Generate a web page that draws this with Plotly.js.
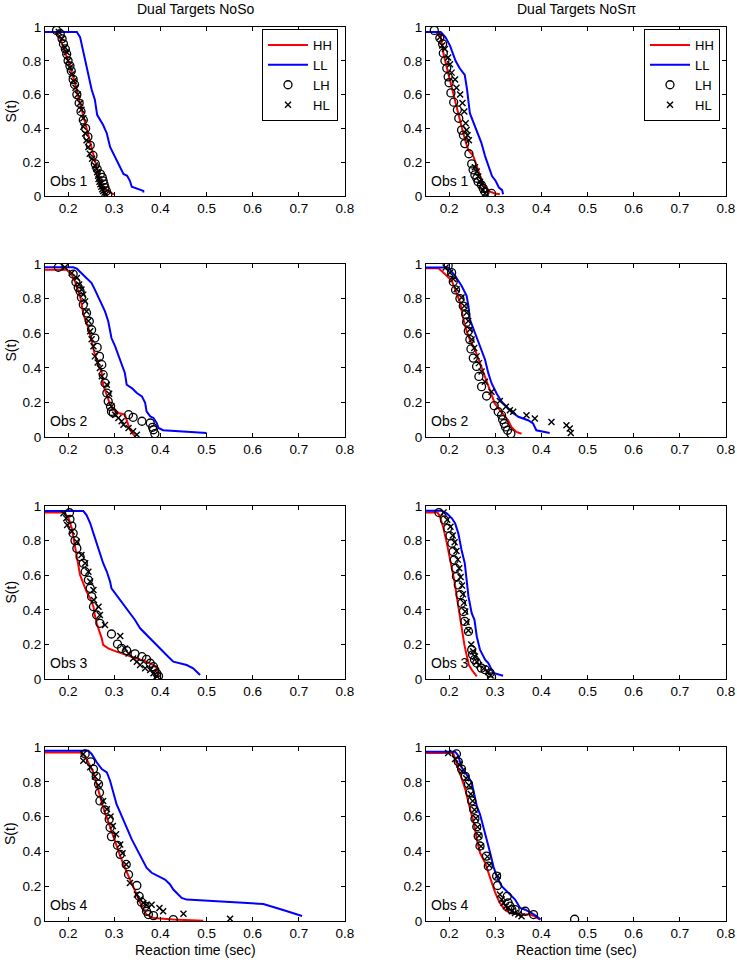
<!DOCTYPE html>
<html>
<head>
<meta charset="utf-8">
<script src="https://cdn.plot.ly/plotly-3.0.1.min.js"></script>
<style>
  html, body { margin: 0; padding: 0; background: #fff; }
  #chart { width: 737px; height: 960px; }
</style>
</head>
<body>
<div id="chart"></div>
<script>
// Survival curves S(t), as [time (sec), S(t)] pairs.
// HH / LL are drawn as lines, LH / HL as open markers.

// ---- Dual Targets NoSo ----
const noso1_hh = [[0.15,0.97],[0.172,0.97],[0.182,0.94],[0.19,0.88],[0.197,0.83],[0.204,0.77],[0.213,0.685],[0.222,0.59],[0.229,0.51],[0.237,0.43],[0.244,0.35],[0.251,0.27],[0.257,0.21],[0.262,0.17],[0.266,0.13],[0.27,0.085],[0.276,0.055],[0.284,0.035],[0.291,0.02],[0.3,0.01]];
const noso1_ll = [[0.15,0.97],[0.219,0.97],[0.226,0.94],[0.237,0.8],[0.244,0.72],[0.251,0.63],[0.258,0.57],[0.263,0.48],[0.276,0.42],[0.284,0.37],[0.291,0.29],[0.302,0.23],[0.313,0.17],[0.32,0.13],[0.328,0.12],[0.334,0.09],[0.338,0.055],[0.355,0.04],[0.363,0.03],[0.363,0.02]];
const noso1_lh = [[0.175,0.98],[0.183,0.96],[0.187,0.93],[0.19,0.9],[0.194,0.87],[0.197,0.84],[0.2,0.8],[0.204,0.77],[0.207,0.74],[0.211,0.69],[0.214,0.66],[0.219,0.6],[0.224,0.55],[0.228,0.5],[0.233,0.45],[0.238,0.4],[0.243,0.35],[0.248,0.3],[0.254,0.24],[0.259,0.19],[0.263,0.16],[0.27,0.13],[0.274,0.11],[0.276,0.09],[0.278,0.07],[0.28,0.05],[0.283,0.03],[0.286,0.01]];
const noso1_hl = [[0.18,0.97],[0.187,0.93],[0.193,0.88],[0.197,0.85],[0.2,0.8],[0.204,0.76],[0.208,0.72],[0.212,0.68],[0.216,0.64],[0.221,0.6],[0.226,0.55],[0.229,0.51],[0.233,0.46],[0.233,0.41],[0.237,0.37],[0.24,0.33],[0.244,0.29],[0.247,0.25],[0.252,0.22],[0.258,0.18],[0.262,0.16],[0.263,0.14],[0.265,0.12],[0.266,0.1],[0.268,0.085],[0.27,0.07],[0.272,0.055],[0.274,0.04],[0.276,0.03],[0.279,0.02],[0.282,0.01]];

const noso2_hh = [[0.15,0.967],[0.197,0.967],[0.208,0.938],[0.215,0.9],[0.222,0.842],[0.227,0.803],[0.232,0.726],[0.237,0.678],[0.244,0.63],[0.249,0.572],[0.255,0.514],[0.258,0.476],[0.266,0.418],[0.273,0.37],[0.276,0.302],[0.284,0.245],[0.291,0.187],[0.298,0.158],[0.309,0.139],[0.323,0.129],[0.328,0.091],[0.334,0.042],[0.345,0.004]];
const noso2_ll = [[0.15,0.981],[0.211,0.981],[0.219,0.973],[0.229,0.948],[0.24,0.919],[0.251,0.89],[0.258,0.852],[0.266,0.803],[0.273,0.765],[0.28,0.726],[0.287,0.669],[0.291,0.62],[0.294,0.572],[0.302,0.524],[0.309,0.476],[0.316,0.418],[0.323,0.37],[0.327,0.302],[0.338,0.283],[0.349,0.254],[0.36,0.235],[0.367,0.197],[0.37,0.148],[0.378,0.119],[0.385,0.11],[0.392,0.081],[0.396,0.052],[0.406,0.039],[0.5,0.023]];
const noso2_lh = [[0.179,0.981],[0.211,0.942],[0.217,0.896],[0.222,0.865],[0.226,0.842],[0.229,0.807],[0.233,0.765],[0.24,0.717],[0.246,0.669],[0.251,0.62],[0.258,0.572],[0.263,0.518],[0.268,0.466],[0.273,0.418],[0.276,0.36],[0.28,0.312],[0.284,0.254],[0.287,0.206],[0.292,0.177],[0.294,0.148],[0.298,0.139],[0.331,0.129],[0.341,0.114],[0.36,0.091],[0.378,0.081],[0.383,0.056],[0.385,0.042],[0.388,0.019]];
const noso2_hl = [[0.193,0.981],[0.208,0.948],[0.219,0.919],[0.224,0.881],[0.229,0.852],[0.233,0.823],[0.237,0.784],[0.24,0.726],[0.244,0.67],[0.248,0.611],[0.251,0.565],[0.255,0.524],[0.258,0.466],[0.264,0.43],[0.269,0.399],[0.273,0.351],[0.284,0.302],[0.289,0.25],[0.294,0.177],[0.302,0.129],[0.309,0.11],[0.316,0.091],[0.32,0.071],[0.331,0.052],[0.341,0.033],[0.349,0.013]];

const noso3_hh = [[0.15,0.963],[0.186,0.963],[0.193,0.958],[0.201,0.929],[0.208,0.871],[0.211,0.823],[0.215,0.765],[0.219,0.707],[0.222,0.649],[0.226,0.601],[0.233,0.553],[0.24,0.505],[0.248,0.466],[0.255,0.418],[0.258,0.37],[0.262,0.322],[0.268,0.274],[0.273,0.235],[0.276,0.197],[0.287,0.177],[0.305,0.158],[0.327,0.139],[0.349,0.119],[0.37,0.1],[0.385,0.081],[0.392,0.062],[0.396,0.013]];
const noso3_ll = [[0.15,0.971],[0.233,0.971],[0.24,0.948],[0.248,0.9],[0.255,0.842],[0.262,0.784],[0.269,0.726],[0.276,0.669],[0.284,0.62],[0.291,0.563],[0.294,0.524],[0.302,0.495],[0.313,0.457],[0.323,0.418],[0.334,0.38],[0.345,0.341],[0.356,0.293],[0.37,0.254],[0.385,0.216],[0.396,0.187],[0.406,0.158],[0.417,0.129],[0.428,0.1],[0.443,0.091],[0.457,0.081],[0.471,0.062],[0.479,0.042],[0.486,0.023]];
const noso3_lh = [[0.203,0.961],[0.204,0.923],[0.208,0.884],[0.211,0.842],[0.215,0.8],[0.219,0.755],[0.226,0.707],[0.233,0.669],[0.237,0.62],[0.244,0.572],[0.248,0.524],[0.251,0.476],[0.255,0.418],[0.262,0.37],[0.269,0.322],[0.294,0.26],[0.307,0.202],[0.316,0.177],[0.327,0.164],[0.345,0.145],[0.36,0.129],[0.37,0.114],[0.378,0.091],[0.385,0.071],[0.388,0.052],[0.392,0.033],[0.396,0.017]];
const noso3_hl = [[0.19,0.958],[0.196,0.929],[0.198,0.89],[0.208,0.852],[0.219,0.794],[0.229,0.717],[0.237,0.669],[0.244,0.62],[0.248,0.563],[0.255,0.514],[0.256,0.457],[0.266,0.418],[0.269,0.37],[0.28,0.312],[0.313,0.249],[0.323,0.177],[0.331,0.148],[0.341,0.119],[0.349,0.1],[0.356,0.081],[0.367,0.062],[0.378,0.052],[0.385,0.033],[0.392,0.017]];

const noso4_hh = [[0.15,0.969],[0.229,0.969],[0.24,0.931],[0.255,0.854],[0.262,0.787],[0.269,0.719],[0.276,0.652],[0.284,0.594],[0.294,0.517],[0.302,0.45],[0.313,0.373],[0.323,0.306],[0.334,0.238],[0.345,0.171],[0.349,0.142],[0.356,0.104],[0.363,0.065],[0.37,0.037],[0.385,0.017],[0.428,0.008],[0.493,0.002]];
const noso4_ll = [[0.15,0.979],[0.244,0.979],[0.251,0.96],[0.262,0.912],[0.273,0.873],[0.284,0.854],[0.291,0.806],[0.298,0.738],[0.305,0.671],[0.313,0.623],[0.32,0.575],[0.327,0.537],[0.338,0.469],[0.349,0.412],[0.356,0.373],[0.37,0.306],[0.381,0.277],[0.396,0.258],[0.41,0.238],[0.421,0.21],[0.428,0.181],[0.435,0.162],[0.446,0.133],[0.457,0.123],[0.573,0.108],[0.623,0.098],[0.666,0.063],[0.707,0.029]];
const noso4_lh = [[0.237,0.96],[0.249,0.915],[0.255,0.873],[0.261,0.831],[0.266,0.787],[0.268,0.738],[0.269,0.69],[0.28,0.638],[0.289,0.585],[0.291,0.537],[0.294,0.485],[0.307,0.435],[0.313,0.383],[0.326,0.325],[0.331,0.267],[0.349,0.204],[0.354,0.142],[0.359,0.108],[0.367,0.085],[0.37,0.056],[0.374,0.037],[0.385,0.031],[0.428,0.008]];
const noso4_hl = [[0.233,0.96],[0.233,0.921],[0.248,0.883],[0.258,0.83],[0.266,0.78],[0.276,0.69],[0.284,0.642],[0.292,0.6],[0.297,0.546],[0.304,0.498],[0.313,0.44],[0.318,0.39],[0.326,0.325],[0.334,0.219],[0.349,0.152],[0.356,0.123],[0.363,0.104],[0.37,0.094],[0.381,0.094],[0.398,0.075],[0.406,0.056],[0.45,0.042],[0.551,0.013]];

// ---- Dual Targets NoSπ ----
const nospi1_hh = [[0.15,0.97],[0.177,0.97],[0.182,0.94],[0.188,0.84],[0.195,0.76],[0.202,0.68],[0.211,0.59],[0.22,0.49],[0.229,0.39],[0.236,0.32],[0.242,0.27],[0.252,0.24],[0.26,0.175],[0.267,0.115],[0.274,0.067],[0.285,0.03],[0.299,0.015],[0.31,0.01]];
const nospi1_ll = [[0.15,0.97],[0.182,0.97],[0.192,0.94],[0.202,0.89],[0.214,0.8],[0.223,0.756],[0.234,0.716],[0.239,0.63],[0.245,0.49],[0.254,0.43],[0.263,0.37],[0.27,0.315],[0.278,0.236],[0.286,0.167],[0.293,0.118],[0.301,0.089],[0.308,0.05],[0.315,0.035],[0.317,0.01]];
const nospi1_lh = [[0.168,0.98],[0.18,0.935],[0.186,0.9],[0.1875,0.845],[0.191,0.8],[0.195,0.756],[0.198,0.705],[0.2,0.67],[0.204,0.61],[0.21,0.555],[0.218,0.51],[0.221,0.46],[0.227,0.39],[0.231,0.36],[0.234,0.31],[0.243,0.25],[0.249,0.19],[0.252,0.155],[0.256,0.125],[0.26,0.105],[0.263,0.085],[0.27,0.065],[0.274,0.045],[0.278,0.025],[0.292,0.015]];
const nospi1_hl = [[0.18,0.94],[0.185,0.89],[0.191,0.87],[0.198,0.82],[0.202,0.78],[0.2055,0.73],[0.213,0.69],[0.216,0.64],[0.224,0.6],[0.229,0.55],[0.233,0.5],[0.236,0.43],[0.238,0.39],[0.24,0.36],[0.243,0.33],[0.256,0.17],[0.26,0.145],[0.263,0.115],[0.267,0.085],[0.27,0.065],[0.274,0.035],[0.278,0.015]];

const nospi2_hh = [[0.15,0.975],[0.177,0.975],[0.191,0.942],[0.206,0.903],[0.216,0.835],[0.224,0.777],[0.231,0.68],[0.238,0.612],[0.245,0.563],[0.256,0.505],[0.267,0.427],[0.278,0.35],[0.288,0.272],[0.299,0.194],[0.31,0.155],[0.321,0.117],[0.328,0.097],[0.335,0.058],[0.346,0.029],[0.357,0.019]];
const nospi2_ll = [[0.15,0.98],[0.198,0.98],[0.213,0.932],[0.227,0.874],[0.238,0.816],[0.242,0.757],[0.245,0.68],[0.252,0.631],[0.263,0.563],[0.27,0.505],[0.278,0.447],[0.285,0.369],[0.292,0.311],[0.303,0.252],[0.314,0.204],[0.325,0.175],[0.335,0.146],[0.35,0.117],[0.371,0.097],[0.382,0.078],[0.389,0.039],[0.418,0.023]];
const nospi2_lh = [[0.198,0.99],[0.2055,0.95],[0.209,0.897],[0.214,0.85],[0.2235,0.8],[0.2307,0.757],[0.236,0.709],[0.238,0.664],[0.2416,0.612],[0.245,0.563],[0.2474,0.509],[0.2524,0.456],[0.2596,0.408],[0.2646,0.35],[0.2704,0.291],[0.2812,0.237],[0.2978,0.181],[0.3065,0.146],[0.3137,0.126],[0.3159,0.101],[0.3195,0.078],[0.3224,0.058],[0.3267,0.039],[0.334,0.019]];
const nospi2_hl = [[0.1925,0.98],[0.2019,0.95],[0.209,0.913],[0.2163,0.854],[0.2271,0.806],[0.233,0.757],[0.238,0.718],[0.2416,0.67],[0.245,0.621],[0.2488,0.563],[0.2545,0.515],[0.2596,0.466],[0.2646,0.427],[0.2704,0.379],[0.2776,0.32],[0.292,0.262],[0.31,0.208],[0.323,0.175],[0.3317,0.155],[0.3389,0.146],[0.3677,0.126],[0.3858,0.107],[0.4218,0.087],[0.4543,0.068],[0.4615,0.049],[0.4637,0.023]];

const nospi3_hh = [[0.15,0.963],[0.175,0.963],[0.18,0.94],[0.187,0.88],[0.194,0.8],[0.2,0.72],[0.206,0.64],[0.212,0.56],[0.217,0.47],[0.221,0.4],[0.225,0.33],[0.229,0.26],[0.233,0.2],[0.237,0.15],[0.243,0.08],[0.25,0.05],[0.26,0.015]];
const nospi3_ll = [[0.15,0.973],[0.184,0.973],[0.195,0.958],[0.206,0.929],[0.213,0.9],[0.22,0.842],[0.227,0.746],[0.234,0.669],[0.238,0.573],[0.242,0.477],[0.249,0.381],[0.255,0.342],[0.26,0.246],[0.267,0.169],[0.278,0.112],[0.285,0.092],[0.296,0.035],[0.307,0.025],[0.317,0.019]];
const nospi3_lh = [[0.178,0.962],[0.19,0.919],[0.197,0.871],[0.202,0.827],[0.206,0.785],[0.209,0.737],[0.211,0.688],[0.214,0.64],[0.216,0.592],[0.22,0.544],[0.224,0.487],[0.227,0.438],[0.231,0.39],[0.234,0.333],[0.242,0.275],[0.249,0.169],[0.251,0.14],[0.255,0.112],[0.26,0.092],[0.27,0.063],[0.278,0.054],[0.289,0.035],[0.292,0.012]];
const nospi3_hl = [[0.188,0.962],[0.196,0.92],[0.203,0.88],[0.208,0.83],[0.212,0.79],[0.216,0.74],[0.219,0.69],[0.222,0.64],[0.225,0.59],[0.228,0.54],[0.23,0.49],[0.232,0.44],[0.235,0.39],[0.238,0.33],[0.242,0.28],[0.248,0.2],[0.252,0.16],[0.256,0.13],[0.26,0.1],[0.265,0.08],[0.275,0.06],[0.285,0.04],[0.29,0.02]];

const nospi4_hh = [[0.15,0.965],[0.209,0.965],[0.213,0.931],[0.22,0.873],[0.227,0.815],[0.235,0.758],[0.242,0.681],[0.249,0.613],[0.255,0.546],[0.26,0.469],[0.267,0.392],[0.278,0.335],[0.285,0.277],[0.292,0.219],[0.3,0.162],[0.31,0.104],[0.321,0.065],[0.332,0.046],[0.354,0.037],[0.375,0.037],[0.386,0.027],[0.397,0.008]];
const nospi4_ll = [[0.15,0.973],[0.213,0.973],[0.22,0.95],[0.227,0.883],[0.235,0.854],[0.242,0.825],[0.249,0.796],[0.253,0.748],[0.256,0.7],[0.26,0.662],[0.267,0.613],[0.274,0.546],[0.281,0.469],[0.289,0.392],[0.296,0.315],[0.303,0.258],[0.314,0.2],[0.328,0.162],[0.343,0.123],[0.354,0.075],[0.365,0.065],[0.379,0.046],[0.39,0.027],[0.398,0.008]];
const nospi4_lh = [[0.216,0.96],[0.22,0.915],[0.227,0.873],[0.235,0.831],[0.242,0.787],[0.245,0.738],[0.249,0.69],[0.253,0.642],[0.256,0.588],[0.26,0.542],[0.263,0.488],[0.267,0.431],[0.281,0.373],[0.285,0.315],[0.303,0.258],[0.305,0.204],[0.326,0.142],[0.328,0.104],[0.332,0.085],[0.336,0.065],[0.343,0.065],[0.365,0.056],[0.383,0.037],[0.472,0.01]];
const nospi4_hl = [[0.198,0.965],[0.213,0.931],[0.222,0.9],[0.228,0.86],[0.237,0.82],[0.243,0.78],[0.247,0.73],[0.251,0.69],[0.255,0.64],[0.258,0.59],[0.262,0.54],[0.265,0.49],[0.269,0.43],[0.283,0.37],[0.287,0.32],[0.305,0.26],[0.31,0.152],[0.314,0.123],[0.318,0.104],[0.323,0.085],[0.328,0.075],[0.336,0.056],[0.343,0.046],[0.35,0.037],[0.357,0.027]];

// Axis ticks and labels
const timeTicks = [0.2, 0.3, 0.4, 0.5, 0.6, 0.7, 0.8];
const survTicks = [0, 0.2, 0.4, 0.6, 0.8, 1];
const survTickText = ['0', '0.2', '0.4', '0.6', '0.8', '1'];
const columnTitles = ['Dual Targets NoSo', 'Dual Targets NoS\u03c0'];
const obsLabels = ['Obs 1', 'Obs 2', 'Obs 3', 'Obs 4'];
const seriesNames = ['HH', 'LL', 'LH', 'HL'];

// panels[col][row] = [hh, ll, lh, hl]
const panels = [
    [[noso1_hh, noso1_ll, noso1_lh, noso1_hl], [noso2_hh, noso2_ll, noso2_lh, noso2_hl],
     [noso3_hh, noso3_ll, noso3_lh, noso3_hl], [noso4_hh, noso4_ll, noso4_lh, noso4_hl]],
    [[nospi1_hh, nospi1_ll, nospi1_lh, nospi1_hl], [nospi2_hh, nospi2_ll, nospi2_lh, nospi2_hl],
     [nospi3_hh, nospi3_ll, nospi3_lh, nospi3_hl], [nospi4_hh, nospi4_ll, nospi4_lh, nospi4_hl]]
];

// Plot-area boxes in page pixels (figure is 737 x 960)
const W = 737, H = 960;
const colPx = [[45, 345], [426, 726]];
const rowPx = [[27, 196], [264, 437], [506, 679], [747, 921]];
const FONT = 'Arial, "Liberation Sans", sans-serif';

const styles = [
    { mode: 'lines', line: { color: '#ff0000', width: 2 } },
    { mode: 'lines', line: { color: '#0000ff', width: 2 } },
    { mode: 'markers', marker: { symbol: 'circle-open', size: 8, color: '#000', line: { color: '#000', width: 1.3 } } },
    { mode: 'markers', marker: { symbol: 'x-thin-open', size: 6, color: '#000', line: { color: '#000', width: 1.4 } } }
];

const traces = [];
const layout = {
    width: W, height: H,
    margin: { l: 0, r: 0, t: 0, b: 0 },
    paper_bgcolor: '#fff', plot_bgcolor: '#fff',
    font: { family: FONT, color: '#000', size: 14 },
    annotations: []
};

const axisStyle = {
    showline: true, linecolor: '#000', linewidth: 1, mirror: 'ticks',
    ticks: 'inside', ticklen: 4, tickcolor: '#000', tickwidth: 1,
    showgrid: false, zeroline: false, fixedrange: true,
    tickfont: { family: FONT, size: 13.5, color: '#000' }
};

panels.forEach((colPanels, c) => {
    colPanels.forEach((series, r) => {
        const n = r * 2 + c + 1;
        const xa = n === 1 ? 'x' : 'x' + n;
        const ya = n === 1 ? 'y' : 'y' + n;

        layout[n === 1 ? 'xaxis' : 'xaxis' + n] = Object.assign({}, axisStyle, {
            domain: [colPx[c][0] / W, colPx[c][1] / W],
            range: [0.15, 0.8], anchor: ya,
            tickvals: timeTicks, ticktext: timeTicks.map(String)
        });
        layout[n === 1 ? 'yaxis' : 'yaxis' + n] = Object.assign({}, axisStyle, {
            domain: [1 - rowPx[r][1] / H, 1 - rowPx[r][0] / H],
            range: [0, 1], anchor: xa,
            tickvals: survTicks, ticktext: survTickText
        });

        series.forEach((pts, k) => {
            traces.push(Object.assign({
                type: 'scatter',
                x: pts.map(p => p[0]),
                y: pts.map(p => p[1]),
                xaxis: xa, yaxis: ya,
                name: seriesNames[k],
                showlegend: r === 0,
                legend: c === 0 ? 'legend' : 'legend2',
                hoverinfo: 'skip'
            }, styles[k]));
        });

        // "Obs N" label in the lower-left corner of each panel
        layout.annotations.push({
            text: obsLabels[r], xref: xa + ' domain', yref: ya + ' domain',
            x: 0.01, y: 0.09, xanchor: 'left', yanchor: 'middle',
            showarrow: false, font: { size: 14 }
        });

        // S(t) label on the left column only
        if (c === 0) {
            layout.annotations.push({
                text: 'S(t)', xref: 'paper', yref: 'paper',
                x: 10 / W, y: 1 - (rowPx[r][0] + rowPx[r][1]) / 2 / H,
                xanchor: 'center', yanchor: 'middle',
                textangle: -90, showarrow: false, font: { size: 14 }
            });
        }
    });

    const cx = (colPx[c][0] + colPx[c][1]) / 2 / W;
    layout.annotations.push({
        text: columnTitles[c], xref: 'paper', yref: 'paper',
        x: cx, y: 1 - 9 / H, xanchor: 'center', yanchor: 'middle',
        showarrow: false, font: { size: 14 }
    });
    layout.annotations.push({
        text: 'Reaction time (sec)', xref: 'paper', yref: 'paper',
        x: cx, y: 1 - 950 / H, xanchor: 'center', yanchor: 'middle',
        showarrow: false, font: { size: 14 }
    });
});

// One boxed legend in the top panel of each column
const legendStyle = {
    xanchor: 'right', yanchor: 'top',
    bgcolor: '#fff', bordercolor: '#000', borderwidth: 1,
    font: { family: FONT, size: 13, color: '#000' },
    itemwidth: 40, tracegroupgap: 0
};
layout.legend = Object.assign({}, legendStyle, { x: 338 / W, y: 1 - 29 / H });
layout.legend2 = Object.assign({}, legendStyle, { x: 720 / W, y: 1 - 29 / H });

Plotly.newPlot('chart', traces, layout, { staticPlot: true });
</script>
</body>
</html>
